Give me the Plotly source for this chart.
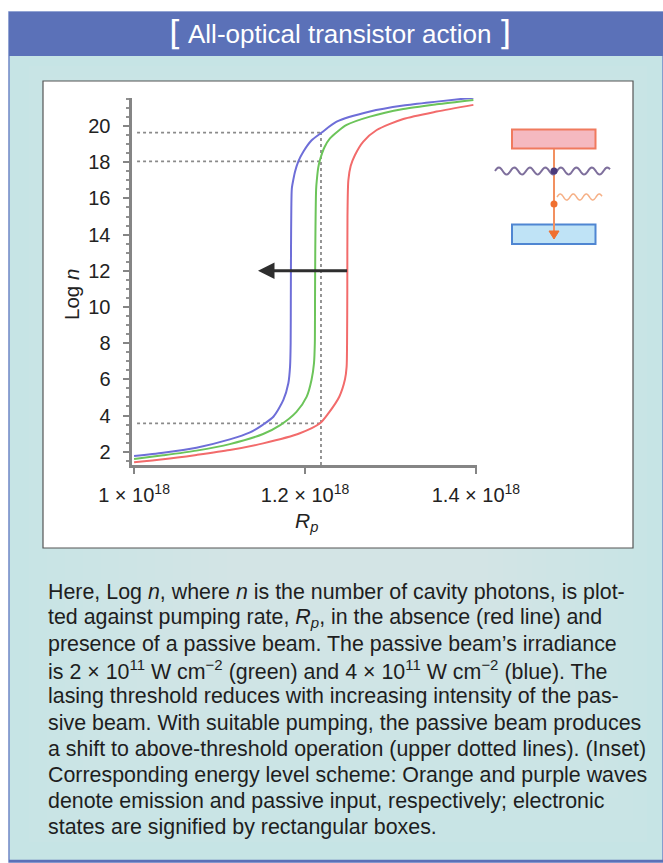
import numpy as np
import plotly.graph_objects as go

# ---------------- data (R_p in units of 1e18) ----------------
rp_red = [1.000, 1.034, 1.073, 1.112, 1.151, 1.194, 1.2175, 1.2273, 1.2401, 1.2468,
          1.2487, 1.2492, 1.2495, 1.2497, 1.2507, 1.2535, 1.2585, 1.2682, 1.2839,
          1.315, 1.354, 1.397]
logn_red = [1.42, 1.58, 1.82, 2.09, 2.46, 3.02, 3.57, 4.12, 5.04, 6.0,
            6.7, 8.0, 11.0, 15.0, 17.0, 17.8, 18.4, 19.14, 19.78,
            20.39, 20.8, 21.17]

rp_green = [1.000, 1.034, 1.073, 1.112, 1.151, 1.171, 1.190, 1.202, 1.2076, 1.2105,
            1.2115, 1.2117, 1.2120, 1.2130, 1.2140, 1.2155, 1.2175, 1.2225, 1.2292,
            1.2487, 1.276, 1.315, 1.354, 1.397]
logn_green = [1.60, 1.80, 2.06, 2.42, 2.98, 3.47, 4.2, 5.04, 5.96, 6.88,
              8.0, 10.0, 13.0, 16.5, 17.1, 17.7, 18.12, 18.8, 19.32,
              20.06, 20.52, 20.94, 21.2, 21.44]

rp_blue = [1.000, 1.034, 1.073, 1.112, 1.135, 1.151, 1.163, 1.1747, 1.1805, 1.1825, 1.1832,
           1.1834, 1.1836, 1.1840, 1.1846, 1.1863, 1.1883, 1.1922, 1.198, 1.2075,
           1.2195, 1.237, 1.276, 1.315, 1.354, 1.397]
logn_blue = [1.76, 1.94, 2.22, 2.68, 3.05, 3.50, 3.93, 4.86, 5.78, 6.70, 8.0,
             10.4, 13.0, 15.5, 16.56, 17.03, 17.48, 18.05, 18.58, 19.2,
             19.64, 20.24, 20.8, 21.13, 21.35, 21.57]

dotted_rp = 1.2187            # vertical dotted line position
dotted_levels = [3.57, 18.05, 19.64]   # horizontal dotted line levels
arrow_from_rp, arrow_to_rp, arrow_level = 1.251, 1.145, 12

x_tickvals = [1.0, 1.2, 1.4]
x_ticktext = ["1 × 10<sup>18</sup>", "1.2 × 10<sup>18</sup>", "1.4 × 10<sup>18</sup>"]
y_tickvals = [2, 4, 6, 8, 10, 12, 14, 16, 18, 20]

title_text = "All-optical transistor action"
caption_lines = [
    "Here, Log <i>n</i>, where <i>n</i> is the number of cavity photons, is plot-",
    "ted against pumping rate, <i>R</i><sub><i>p</i></sub>, in the absence (red line) and",
    "presence of a passive beam. The passive beam’s irradiance",
    "is 2 × 10<sup>11</sup> W cm<sup>−2</sup> (green) and 4 × 10<sup>11</sup> W cm<sup>−2</sup> (blue). The",
    "lasing threshold reduces with increasing intensity of the pas-",
    "sive beam. With suitable pumping, the passive beam produces",
    "a shift to above-threshold operation (upper dotted lines). (Inset)",
    "Corresponding energy level scheme: Orange and purple waves",
    "denote emission and passive input, respectively; electronic",
    "states are signified by rectangular boxes.",
]

# ---------------- layout helpers ----------------
W, H = 663, 863
def px(x):
    return x / W
def py(y):
    return 1 - y / H

E18 = 1e18
FONT = "Liberation Sans, Arial, Helvetica, sans-serif"

fig = go.Figure()

# dotted guide lines
for lv in dotted_levels:
    fig.add_trace(go.Scatter(x=[1.0035 * E18, dotted_rp * E18], y=[lv, lv], mode="lines",
                             line=dict(color="#8a8a8a", width=1.8, dash="dot"),
                             hoverinfo="skip", showlegend=False))
fig.add_trace(go.Scatter(x=[dotted_rp * E18, dotted_rp * E18], y=[1.27, max(dotted_levels)],
                         mode="lines", line=dict(color="#8a8a8a", width=1.8, dash="dot"),
                         hoverinfo="skip", showlegend=False))

# curves
for rp, ln, col in [(rp_red, logn_red, "#f26b6b"),
                    (rp_green, logn_green, "#6cc45a"),
                    (rp_blue, logn_blue, "#6e6ed8")]:
    fig.add_trace(go.Scatter(x=np.array(rp) * E18, y=ln, mode="lines",
                             line=dict(color=col, width=2, shape="spline", smoothing=0.7),
                             hoverinfo="skip", showlegend=False, cliponaxis=False))

# ---------------- shapes: frame / header / white box ----------------
shapes = []
shapes.append(dict(type="rect", xref="paper", yref="paper",
                   x0=px(9), x1=px(663), y0=py(862), y1=py(12),
                   fillcolor="#c6e4e5", line=dict(color="#6f86c6", width=1.5), layer="below"))
# subtle lighter centre (soft gradient)
for i in range(12):
    ix = 20 + i * 18
    iy = 20 + i * 22
    shapes.append(dict(type="rect", xref="paper", yref="paper",
                       x0=px(9 + ix), x1=px(663 - ix * 0.8), y0=py(862 - iy), y1=py(56 + iy * 0.5),
                       fillcolor="white", opacity=0.035, line=dict(width=0), layer="below"))
shapes.append(dict(type="rect", xref="paper", yref="paper",
                   x0=px(9), x1=px(663), y0=py(56), y1=py(12),
                   fillcolor="#5b71b8", line=dict(width=0), layer="below"))
shapes.append(dict(type="line", xref="paper", yref="paper",
                   x0=px(9), x1=px(663), y0=py(861), y1=py(861),
                   line=dict(color="#5b71b8", width=2.5), layer="below"))
shapes.append(dict(type="rect", xref="paper", yref="paper",
                   x0=px(43), x1=px(633), y0=py(548), y1=py(81),
                   fillcolor="white", line=dict(color="#555555", width=1.2), layer="below"))

# ---------------- inset energy diagram ----------------
shapes.append(dict(type="rect", xref="paper", yref="paper",
                   x0=px(512), x1=px(595.5), y0=py(148.5), y1=py(129.5),
                   fillcolor="#f5b9c0", line=dict(color="#f07a5e", width=2)))
shapes.append(dict(type="rect", xref="paper", yref="paper",
                   x0=px(512), x1=px(595.5), y0=py(244), y1=py(224.5),
                   fillcolor="#bfe3f6", line=dict(color="#4f86d2", width=2)))
shapes.append(dict(type="line", xref="paper", yref="paper",
                   x0=px(554), x1=px(554), y0=py(149), y1=py(232),
                   line=dict(color="#f29060", width=2)))
shapes.append(dict(type="path", xref="paper", yref="paper",
                   path=f"M {px(549)} {py(231)} L {px(559)} {py(231)} L {px(554)} {py(239)} Z",
                   fillcolor="#f07030", line=dict(color="#f07030", width=1)))

def wave_path(x0, x1, yc, amp, period):
    xs = np.linspace(x0, x1, 120)
    ys = yc - amp * np.sin(2 * np.pi * (xs - x0) / period)
    pts = [f"{px(a):.5f} {py(b):.5f}" for a, b in zip(xs, ys)]
    return "M " + " L ".join(pts)

shapes.append(dict(type="path", xref="paper", yref="paper",
                   path=wave_path(495, 610, 171, 3.5, 15.5),
                   line=dict(color="#7e6f9c", width=2)))
shapes.append(dict(type="path", xref="paper", yref="paper",
                   path=wave_path(557, 602, 197, 3.0, 13),
                   line=dict(color="#f6b086", width=1.5)))
shapes.append(dict(type="circle", xref="paper", yref="paper",
                   x0=px(550.5), x1=px(557.5), y0=py(174.5), y1=py(167.5),
                   fillcolor="#4b3b7c", line=dict(width=0)))
shapes.append(dict(type="circle", xref="paper", yref="paper",
                   x0=px(550.5), x1=px(557.5), y0=py(207.5), y1=py(200.5),
                   fillcolor="#f07030", line=dict(width=0)))

# ---------------- annotations ----------------
ann = []
ann.append(dict(x=arrow_to_rp * E18, y=arrow_level, ax=arrow_from_rp * E18, ay=arrow_level,
                xref="x", yref="y", axref="x", ayref="y", text="", showarrow=True,
                arrowhead=2, arrowsize=1.1, arrowwidth=3, arrowcolor="#2e2e2e"))
ann.append(dict(x=px(339), y=py(34), xref="paper", yref="paper", text=title_text,
                showarrow=False, font=dict(family=FONT, size=26, color="white"),
                xanchor="center", yanchor="middle"))
ann.append(dict(x=px(175), y=py(33), xref="paper", yref="paper", text="[",
                showarrow=False, font=dict(family="DejaVu Sans, sans-serif", size=34, color="white"),
                xanchor="center", yanchor="middle"))
ann.append(dict(x=px(504), y=py(33), xref="paper", yref="paper", text="]",
                showarrow=False, font=dict(family="DejaVu Sans, sans-serif", size=34, color="white"),
                xanchor="center", yanchor="middle"))
ann.append(dict(x=px(306), y=py(522), xref="paper", yref="paper", text="<i>R</i><sub><i>p</i></sub>",
                showarrow=False, font=dict(family=FONT, size=21, color="#222"),
                xanchor="center", yanchor="middle"))
ann.append(dict(x=px(71), y=py(295), xref="paper", yref="paper", text="Log <i>n</i>",
                showarrow=False, textangle=-90, font=dict(family=FONT, size=20.5, color="#222"),
                xanchor="center", yanchor="middle"))
for i, line in enumerate(caption_lines):
    ann.append(dict(x=px(46), y=py(592 + 26.1 * i), xref="paper", yref="paper", text=line,
                    showarrow=False, font=dict(family=FONT, size=21.4, color="#1e1e1e"),
                    xanchor="left", yanchor="middle"))

# ---------------- axes ----------------
x0_px, x1_px = 131.5, 476.8
y0_px, y1_px = 465, 98
fig.update_layout(
    width=W, height=H,
    margin=dict(l=0, r=0, t=0, b=0, pad=0, autoexpand=False),
    paper_bgcolor="white", plot_bgcolor="rgba(0,0,0,0)",
    shapes=shapes, annotations=ann,
    xaxis=dict(domain=[px(x0_px), px(x1_px)], range=[0.997 * E18, 1.401 * E18],
               tickvals=[v * E18 for v in x_tickvals], ticktext=x_ticktext, automargin=False,
               showgrid=False, zeroline=False, showline=True, linecolor="#858585", linewidth=3,
               ticks="outside", ticklen=6, tickwidth=2, tickcolor="#858585",
               ticklabelstandoff=4,
               tickfont=dict(family=FONT, size=20, color="#222")),
    yaxis=dict(domain=[py(y0_px), py(y1_px)], range=[1.265, 21.55], automargin=False,
               tickvals=y_tickvals, showgrid=False, zeroline=False, showline=True,
               linecolor="#858585", linewidth=3,
               ticks="outside", ticklen=6, tickwidth=2, tickcolor="#858585",
               minor=dict(dtick=0.5, ticks="outside", ticklen=3, tickwidth=1.5, tickcolor="#909090"),
               ticklabelstandoff=8,
               tickfont=dict(family=FONT, size=20, color="#222")),
)

fig.write_html("out.html", post_script="document.body.style.margin='0';",
               config={"displayModeBar": False})
